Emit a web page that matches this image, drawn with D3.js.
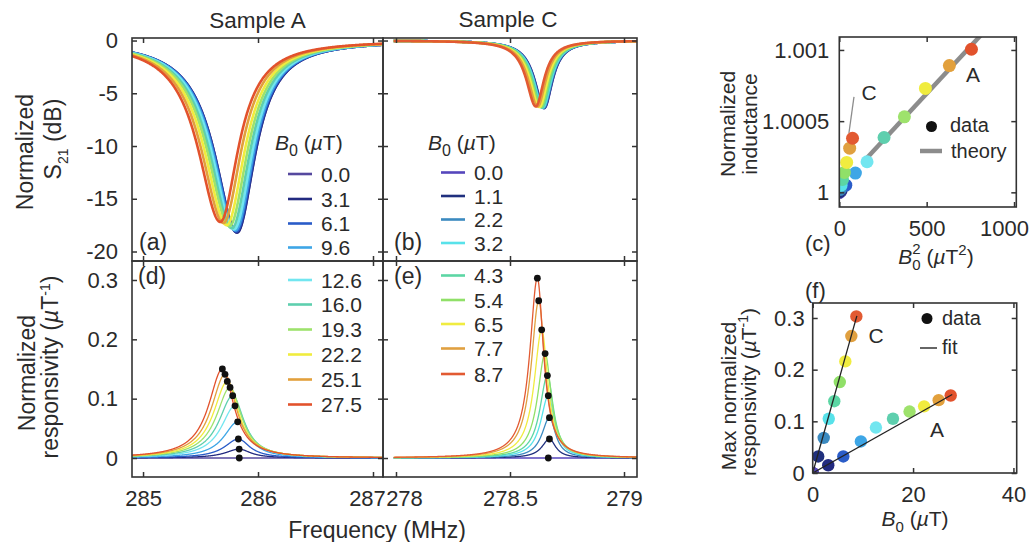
<!DOCTYPE html>
<html>
<head>
<meta charset="utf-8">
<script src="https://cdn.jsdelivr.net/npm/d3@7"></script>
<style>
  body { margin: 0; background: #fff; }
  svg { display: block; }
  text { font-family: "Liberation Sans", Arial, sans-serif; fill: #2a2a2a; }
</style>
</head>
<body>
<svg id="fig" width="1032" height="542"></svg>
<script>
// ---------- data ----------
// Bias fields (µT) for the two samples
const fieldsA = [0.0, 3.1, 6.1, 9.6, 12.6, 16.0, 19.3, 22.2, 25.1, 27.5];
const fieldsC = [0.0, 1.1, 2.2, 3.2, 4.3, 5.4, 6.5, 7.7, 8.7];
const colorsA = ["#55489e", "#222a80", "#2a5cc8", "#3ea6e6", "#72e6f0", "#5ecfae", "#9ee26c", "#f0ec3e", "#e2a03c", "#e2522c"];
const colorsC = ["#5646bc", "#20307e", "#3b8ac0", "#58e2ea", "#5cd6a4", "#90e068", "#f0ec40", "#e0a040", "#e25a32"];

// Resonance dips in S21: centre frequency (MHz) and depth (dB)
const dipFreqA  = [285.818, 285.817, 285.812, 285.804, 285.792, 285.773, 285.752, 285.728, 285.700, 285.672];
const dipDepthA = [-18.2, -18.2, -18.1, -18.0, -17.9, -17.8, -17.6, -17.5, -17.3, -17.2];
const dipFreqC  = [278.650, 278.649, 278.647, 278.644, 278.640, 278.635, 278.629, 278.621, 278.613];
const dipDepthC = [-6.4, -6.4, -6.4, -6.35, -6.35, -6.3, -6.3, -6.25, -6.25];
// dip half-widths below / above resonance (MHz)
const dipWidthA = [0.235, 0.19];
const dipWidthC = [0.05, 0.044];

// Maximum normalized responsivity (µT^-1) and the frequency where it occurs
const peakFreqA = [285.837, 285.836, 285.829, 285.823, 285.800, 285.780, 285.757, 285.733, 285.713, 285.690];
const peakRespA = [0.000, 0.015, 0.032, 0.061, 0.088, 0.105, 0.119, 0.129, 0.141, 0.150];
const peakFreqC = [278.668, 278.673, 278.673, 278.668, 278.664, 278.654, 278.639, 278.626, 278.620];
const peakRespC = [0.000, 0.032, 0.068, 0.105, 0.139, 0.176, 0.216, 0.265, 0.303];
// responsivity line half-widths below / above the peak (MHz)
const respWidthA = [0.145, 0.12];
const respWidthC = [0.04, 0.033];

// Normalized kinetic inductance vs B0^2
const inductA = [1.0, 1.00001, 1.00005, 1.000135, 1.000215, 1.000385, 1.00053, 1.00073, 1.00089, 1.001005];
const inductC = [1.0, 1.000005, 1.00002, 1.00005, 1.00009, 1.00014, 1.00021, 1.00031, 1.00038];
const theoryA = [[150, 1.00023], [830, 1.00113]];
const pointerC = [[55, 1.000415], [84, 1.00067]];

// Linear fits of max responsivity vs B0
const fitA = [[0, 0], [27.8, 0.152]];
const fitC = [[0, 0], [8.8, 0.304]];

// Tick values
const ticksFreqA = [285, 286, 287];
const ticksFreqC = [278, 278.5, 279];
const ticksS21 = [0, -5, -10, -15, -20];
const ticksResp = [0, 0.1, 0.2, 0.3];
const ticksB2 = [0, 500, 1000];
const ticksInd = [1, 1.0005, 1.001];
const ticksB = [0, 20, 40];
const ticksMax = [0, 0.1, 0.2, 0.3];

// ---------- scales ----------
const xA = d3.scaleLinear().domain([284.904, 287.087]).range([132, 383]);
const xC = d3.scaleLinear().domain([277.943, 279.057]).range([383, 637]);
const yS = d3.scaleLinear().domain([0.24, -20.9]).range([38, 261]);
const yR = d3.scaleLinear().domain([0.332, -0.032]).range([261, 477]);
const xL = d3.scaleLinear().domain([0, 1013]).range([839.3, 1016.3]);
const yL = d3.scaleLinear().domain([0.999897, 1.001091]).range([207, 37]);
const xF = d3.scaleLinear().domain([0, 40.65]).range([812.7, 1016.7]);
const yF = d3.scaleLinear().domain([0, 0.329]).range([473, 303]);

const svg = d3.select("#fig");
const FS = 22;

// ---------- line shapes ----------
// dip in dB, asymmetric Lorentzian profile
function s21dB(f, f0, depth, w) {
  const u = (f - f0) / (f < f0 ? w[0] : w[1]);
  return depth / (1 + u * u);
}
function respShape(f, p, h, g) {
  const u = (f - p) / (f < p ? g[0] : g[1]);
  return h / (1 + u * u);
}
function grid(x0, x1, n) { return d3.range(n + 1).map(i => x0 + (x1 - x0) * i / n); }

// ---------- helpers ----------
function box(x, y) {
  const [l, r] = d3.extent(x.range()), [t, b] = d3.extent(y.range());
  return { l, r, t, b };
}
let clipId = 0;
function clipFor(x, y) {
  const k = box(x, y);
  const id = "clip" + (clipId++);
  svg.append("clipPath").attr("id", id).append("rect")
    .attr("x", k.l).attr("y", k.t).attr("width", k.r - k.l).attr("height", k.b - k.t);
  return "url(#" + id + ")";
}
function frame(x, y) {
  const k = box(x, y);
  svg.append("rect")
    .attr("x", k.l).attr("y", k.t).attr("width", k.r - k.l).attr("height", k.b - k.t)
    .attr("fill", "none").attr("stroke", "#333").attr("stroke-width", 1.6);
}
function styleAxis(g) {
  g.attr("font-size", null).attr("font-family", null);
  g.select(".domain").remove();
  g.selectAll(".tick line").attr("stroke", "#333").attr("stroke-width", 1.5);
  g.selectAll(".tick text").attr("font-size", FS).attr("fill", "#2a2a2a");
}
function axes(x, y, o) {
  const k = box(x, y);
  const bottom = d3.axisBottom(x).tickValues(o.xt).tickSizeInner(-5).tickSizeOuter(0).tickPadding(13)
    .tickFormat(o.xLab ? (o.xFmt || (d => String(d))) : "");
  const gb = svg.append("g").attr("transform", `translate(0,${k.b})`).call(bottom).call(styleAxis);
  const top = d3.axisTop(x).tickValues(o.xt).tickSizeInner(-5).tickSizeOuter(0).tickFormat("");
  svg.append("g").attr("transform", `translate(0,${k.t})`).call(top).call(styleAxis);
  const left = d3.axisLeft(y).tickValues(o.yt).tickSizeInner(-5).tickSizeOuter(0).tickPadding(o.yPad || 14)
    .tickFormat(o.yLab ? (o.yFmt || (d => String(d))) : "");
  svg.append("g").attr("transform", `translate(${k.l},0)`).call(left).call(styleAxis);
  const right = d3.axisRight(y).tickValues(o.yt).tickSizeInner(-5).tickSizeOuter(0).tickFormat("");
  svg.append("g").attr("transform", `translate(${k.r},0)`).call(right).call(styleAxis);
  if (o.xShift) gb.selectAll(".tick text").attr("dx", d => o.xShift[d] || 0);
}
function addText(x, y, parts, opts = {}) {
  const t = svg.append("text").attr("x", x).attr("y", y)
    .attr("font-size", opts.size || FS)
    .attr("text-anchor", opts.anchor || "start");
  if (opts.rotate) t.attr("transform", `rotate(-90,${x},${y})`);
  parts.forEach(p => {
    const s = t.append("tspan").text(p.t);
    if (p.i) s.attr("font-style", "italic");
    if (p.dy) s.attr("dy", p.dy);
    if (p.dx) s.attr("dx", p.dx);
    if (p.s) s.attr("font-size", p.s);
  });
  return t;
}

// ---------- (a) S21, sample A ----------
{
  const g = svg.append("g").attr("clip-path", clipFor(xA, yS));
  const fs = grid(xA.domain()[0], xA.domain()[1], 700);
  const line = d3.line().x(d => xA(d[0])).y(d => yS(d[1]));
  fieldsA.forEach((b, i) => {
    g.append("path")
      .attr("d", line(fs.map(f => [f, s21dB(f, dipFreqA[i], dipDepthA[i], dipWidthA)])))
      .attr("fill", "none").attr("stroke", colorsA[i]).attr("stroke-width", 2.6);
  });
}
// ---------- (b) S21, sample C ----------
{
  const g = svg.append("g").attr("clip-path", clipFor(xC, yS));
  const fs = grid(277.99, xC.domain()[1], 900);
  const line = d3.line().x(d => xC(d[0])).y(d => yS(d[1]));
  fieldsC.forEach((b, i) => {
    g.append("path")
      .attr("d", line(fs.map(f => [f, s21dB(f, dipFreqC[i], dipDepthC[i], dipWidthC)])))
      .attr("fill", "none").attr("stroke", colorsC[i]).attr("stroke-width", 2.6);
  });
}
// ---------- (d) responsivity, sample A ----------
{
  const g = svg.append("g").attr("clip-path", clipFor(xA, yR));
  const fs = grid(xA.domain()[0], xA.domain()[1], 900);
  const line = d3.line().x(d => xA(d[0])).y(d => yR(d[1]));
  fieldsA.forEach((b, i) => {
    g.append("path")
      .attr("d", line(fs.map(f => [f, respShape(f, peakFreqA[i], peakRespA[i], respWidthA)])))
      .attr("fill", "none").attr("stroke", colorsA[i]).attr("stroke-width", 1.3);
  });
  g.selectAll("circle").data(peakRespA).join("circle")
    .attr("cx", (d, i) => xA(peakFreqA[i])).attr("cy", d => yR(d))
    .attr("r", 3.4).attr("fill", "#111");
}
// ---------- (e) responsivity, sample C ----------
{
  const g = svg.append("g").attr("clip-path", clipFor(xC, yR));
  const fs = grid(277.99, xC.domain()[1], 1200);
  const line = d3.line().x(d => xC(d[0])).y(d => yR(d[1]));
  fieldsC.forEach((b, i) => {
    g.append("path")
      .attr("d", line(fs.map(f => [f, respShape(f, peakFreqC[i], peakRespC[i], respWidthC)])))
      .attr("fill", "none").attr("stroke", colorsC[i]).attr("stroke-width", 1.3);
  });
  g.selectAll("circle").data(peakRespC).join("circle")
    .attr("cx", (d, i) => xC(peakFreqC[i])).attr("cy", d => yR(d))
    .attr("r", 3.4).attr("fill", "#111");
}

frame(xA, yS); frame(xC, yS); frame(xA, yR); frame(xC, yR);
axes(xA, yS, { xt: ticksFreqA, yt: ticksS21, xLab: false, yLab: true });
axes(xC, yS, { xt: ticksFreqC, yt: ticksS21, xLab: false, yLab: false });
axes(xA, yR, { xt: ticksFreqA, yt: ticksResp, xLab: true, yLab: true, xShift: { 287: -6 } });
axes(xC, yR, { xt: ticksFreqC, yt: ticksResp, xLab: true, yLab: false, xShift: { 278: 8 } });

// legends for the field values
function fieldLegend(x0, rows) {
  addText(x0 - 13, 150, [{ t: "B", i: true }, { t: "0", dy: 6, s: 16 }, { t: " (", dy: -6 }, { t: "µ", i: true }, { t: "T)" }], { size: 21 });
  rows.forEach(r => {
    svg.append("line").attr("x1", x0).attr("x2", x0 + 24).attr("y1", r.y).attr("y2", r.y)
      .attr("stroke", r.c).attr("stroke-width", 2.6);
    svg.append("text").attr("x", x0 + 33).attr("y", r.y).attr("dy", "0.36em")
      .attr("font-size", 21).text(r.v.toFixed(1));
  });
}
const rowYA = [174, 199, 223.5, 247.5, 280, 304.5, 329.5, 354.5, 379.5, 404.5];
const rowYC = [172.5, 196, 219.5, 243, 275.5, 300, 324, 348.5, 374];
fieldLegend(288, fieldsA.map((v, i) => ({ v, c: colorsA[i], y: rowYA[i] })));
fieldLegend(441, fieldsC.map((v, i) => ({ v, c: colorsC[i], y: rowYC[i] })));

// titles and axis labels of the frequency panels
addText(257.5, 28, [{ t: "Sample A" }], { anchor: "middle", size: 22.5 });
addText(508, 27, [{ t: "Sample C" }], { anchor: "middle", size: 22.5 });
addText(377, 538, [{ t: "Frequency (MHz)" }], { anchor: "middle", size: 23 });
addText(33, 152, [{ t: "Normalized" }], { anchor: "middle", rotate: true, size: 23 });
addText(61, 139, [{ t: "S" }, { t: "21", dy: 7, s: 14 }, { t: " (dB)", dy: -7 }], { anchor: "middle", rotate: true, size: 23 });
addText(35, 373, [{ t: "Normalized" }], { anchor: "middle", rotate: true, size: 23 });
addText(58, 367, [{ t: "responsivity (" }, { t: "µ", i: true }, { t: "T" }, { t: "-1", dy: -8, s: 14 }, { t: ")", dy: 8 }], { anchor: "middle", rotate: true, size: 23 });
addText(139, 250, [{ t: "(a)" }], { size: 23 });
addText(394, 250, [{ t: "(b)" }], { size: 23 });
addText(138, 284, [{ t: "(d)" }], { size: 23 });
addText(394, 284, [{ t: "(e)" }], { size: 23 });

// ---------- (c) inductance vs B0^2 ----------
{
  const g = svg.append("g").attr("clip-path", clipFor(xL, yL));
  const line = d3.line().x(d => xL(d[0])).y(d => yL(d[1]));
  g.append("path").attr("d", line(theoryA)).attr("stroke", "#8c8c8c").attr("stroke-width", 4.5).attr("fill", "none");
  g.append("path").attr("d", line(pointerC)).attr("stroke", "#8c8c8c").attr("stroke-width", 1.3).attr("fill", "none");
  g.selectAll(".pa").data(inductA).join("circle").attr("class", "pa")
    .attr("cx", (d, i) => xL(fieldsA[i] * fieldsA[i])).attr("cy", d => yL(d))
    .attr("r", 6.5).attr("fill", (d, i) => colorsA[i]);
  g.selectAll(".pc").data(inductC).join("circle").attr("class", "pc")
    .attr("cx", (d, i) => xL(fieldsC[i] * fieldsC[i])).attr("cy", d => yL(d))
    .attr("r", 6.5).attr("fill", (d, i) => colorsC[i]);
  frame(xL, yL);
  axes(xL, yL, { xt: ticksB2, yt: ticksInd, xLab: true, yLab: true, yPad: 10, xShift: { 1000: -10 } });
  svg.append("circle").attr("cx", 931.5).attr("cy", 126.5).attr("r", 5.5).attr("fill", "#111");
  addText(950, 132, [{ t: "data" }], { size: 20 });
  svg.append("line").attr("x1", 920).attr("x2", 942).attr("y1", 151).attr("y2", 151).attr("stroke", "#8c8c8c").attr("stroke-width", 4.5);
  addText(951, 158, [{ t: "theory" }], { size: 20 });
  addText(973, 82, [{ t: "A" }], { anchor: "middle", size: 21 });
  addText(869, 100, [{ t: "C" }], { anchor: "middle", size: 21 });
  addText(735, 124, [{ t: "Normalized" }], { anchor: "middle", rotate: true, size: 21 });
  addText(757, 124, [{ t: "inductance" }], { anchor: "middle", rotate: true, size: 21 });
  addText(936, 264, [{ t: "B", i: true }, { t: "0", dy: 6, s: 15 }, { t: "2", dx: -8.5, dy: -16, s: 15 }, { t: " (", dy: 10 }, { t: "µ", i: true }, { t: "T" }, { t: "2", dy: -9, s: 15 }, { t: ")", dy: 9 }], { anchor: "middle", size: 21 });
  addText(805, 251, [{ t: "(c)" }], { size: 22 });
}

// ---------- (f) max responsivity vs B0 ----------
{
  const g = svg.append("g").attr("clip-path", clipFor(xF, yF));
  const line = d3.line().x(d => xF(d[0])).y(d => yF(d[1]));
  g.selectAll(".fa").data(peakRespA).join("circle").attr("class", "fa")
    .attr("cx", (d, i) => xF(fieldsA[i])).attr("cy", d => yF(d))
    .attr("r", 6.2).attr("fill", (d, i) => colorsA[i]);
  g.selectAll(".fc").data(peakRespC).join("circle").attr("class", "fc")
    .attr("cx", (d, i) => xF(fieldsC[i])).attr("cy", d => yF(d))
    .attr("r", 6.2).attr("fill", (d, i) => colorsC[i]);
  g.append("path").attr("d", line(fitA)).attr("stroke", "#222").attr("stroke-width", 1.3).attr("fill", "none");
  g.append("path").attr("d", line(fitC)).attr("stroke", "#222").attr("stroke-width", 1.3).attr("fill", "none");
  frame(xF, yF);
  axes(xF, yF, { xt: ticksB, yt: ticksMax, xLab: true, yLab: true, yPad: 8 });
  svg.append("circle").attr("cx", 927).attr("cy", 318.5).attr("r", 5.5).attr("fill", "#111");
  addText(942, 325, [{ t: "data" }], { size: 20 });
  svg.append("line").attr("x1", 920).attr("x2", 937).attr("y1", 348).attr("y2", 348).attr("stroke", "#333").attr("stroke-width", 1.5);
  addText(942, 354, [{ t: "fit" }], { size: 20 });
  addText(876, 343, [{ t: "C" }], { anchor: "middle", size: 21 });
  addText(937, 437, [{ t: "A" }], { anchor: "middle", size: 21 });
  addText(736, 396, [{ t: "Max normalized" }], { anchor: "middle", rotate: true, size: 21 });
  addText(756, 392, [{ t: "responsivity (" }, { t: "µ", i: true }, { t: "T" }, { t: "-1", dy: -8, s: 14 }, { t: ")", dy: 8 }], { anchor: "middle", rotate: true, size: 21 });
  addText(915, 526, [{ t: "B", i: true }, { t: "0", dy: 6, s: 15 }, { t: " (", dy: -6 }, { t: "µ", i: true }, { t: "T)" }], { anchor: "middle", size: 21 });
  addText(805, 298, [{ t: "(f)" }], { size: 22 });
}
</script>
</body>
</html>
